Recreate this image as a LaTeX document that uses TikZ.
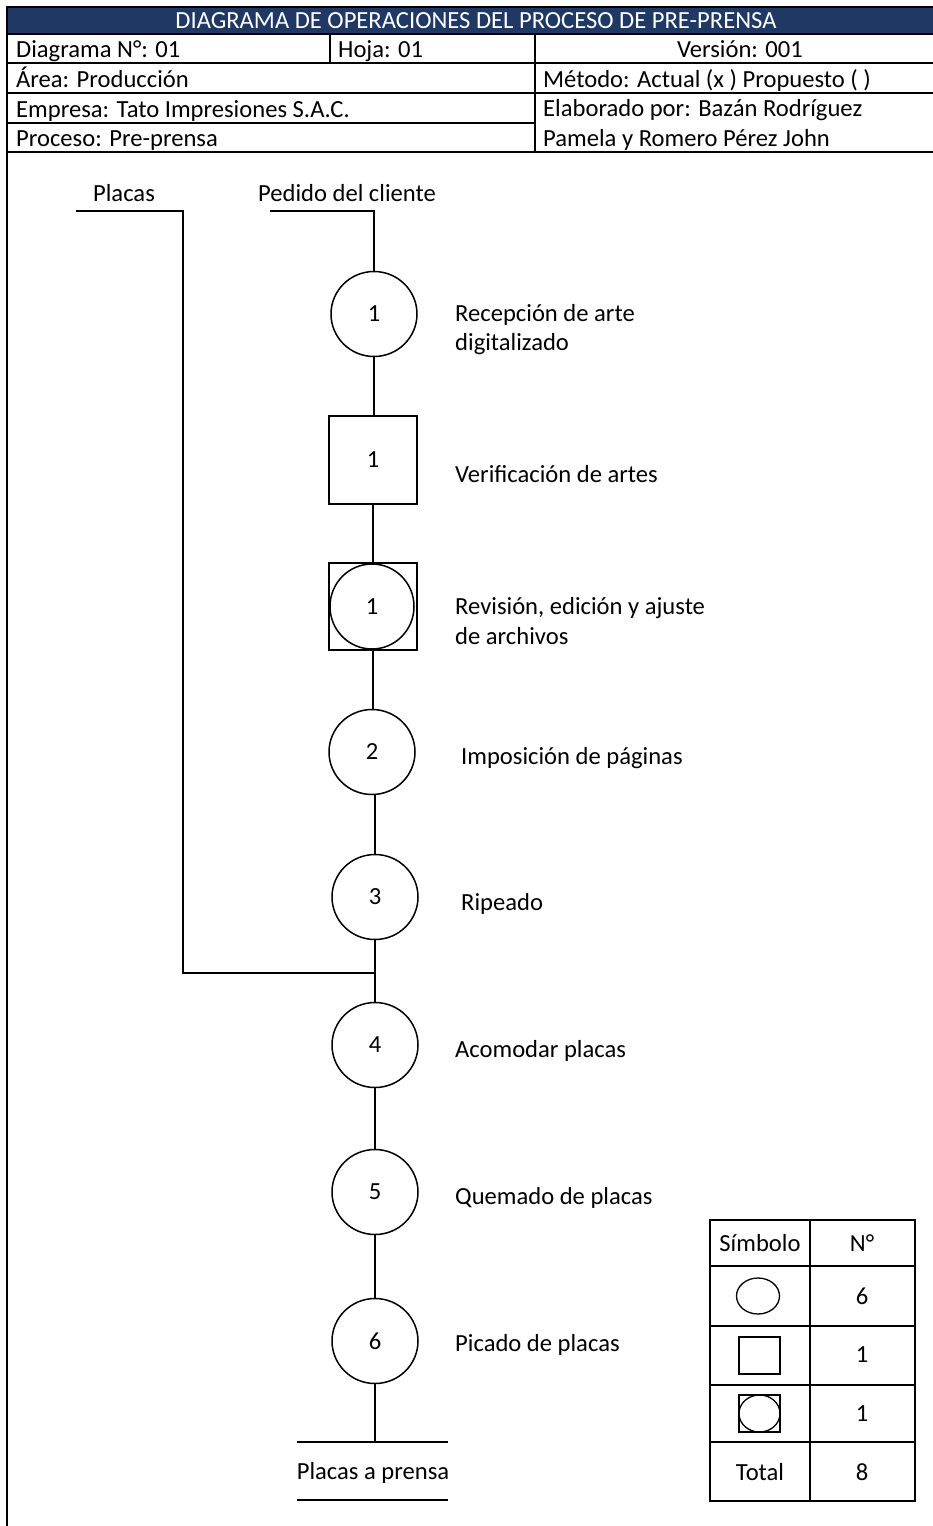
\documentclass[tikz,border=0pt]{standalone}
\usepackage{fontspec}
\setmainfont{Carlito}
\usetikzlibrary{shapes.geometric}
\definecolor{navy}{HTML}{1F3864}
\tikzset{
  every node/.style={font=\fontsize{24.6}{29}\selectfont, inner sep=0pt},
  rule/.style={line width=1.5pt, line cap=rect},
  opnode/.style={draw, line width=1.5pt, ellipse, minimum width=86pt, minimum height=85pt},
  insnode/.style={draw, line width=1.5pt, rectangle, minimum width=88pt, minimum height=88pt},
  comboframe/.style={draw, line width=1.5pt, rectangle, minimum width=88pt, minimum height=87pt},
  combocircle/.style={draw, line width=1.5pt, ellipse, minimum width=84pt, minimum height=85pt},
  lbl/.style={anchor=base west},
  hdr/.style={anchor=base west},
}
\begin{document}
\begin{tikzpicture}[x=1pt, y=-1pt]
\useasboundingbox (0,0) rectangle (933,1526);

% ---- header block ----
\fill[navy] (7,7) rectangle (933,34);
\node[anchor=base, text=white] (title) at (476,28) {DIAGRAMA DE OPERACIONES DEL PROCESO DE PRE-PRENSA};
\draw[rule] (7,7) -- (933,7);
\draw[rule] (7,34) -- (933,34);
\draw[rule] (7,63) -- (933,63);
\draw[rule] (7,93) -- (933,93);
\draw[rule] (7,123) -- (535,123);
\draw[rule] (7,152) -- (933,152);
\draw[rule] (330,34) -- (330,63);
\draw[rule] (535,34) -- (535,152);
\draw[rule] (7,7) -- (7,1526);

\node[hdr] (h1) at (16,57) {Diagrama N°: 01};
\node[hdr] (h2) at (338,57) {Hoja: 01};
\node[anchor=base] (h3) at (740,57) {Versión: 001};
\node[hdr] (h4) at (16,87) {Área: Producción};
\node[hdr] (h5) at (543,87) {Método: Actual (x ) Propuesto ( )};
\node[hdr] (h6) at (16,117) {Empresa: Tato Impresiones S.A.C.};
\node[hdr] (h7) at (543,116) {Elaborado por: Bazán Rodríguez};
\node[hdr] (h8) at (16,146) {Proceso: Pre-prensa};
\node[hdr] (h9) at (543,146) {Pamela y Romero Pérez John};

% ---- inputs ----
\node[anchor=base] (placas) at (124,201) {Placas};
\node[anchor=base] (pedido) at (347,201) {Pedido del cliente};
\coordinate (plL) at (77,211);
\coordinate (plC) at (183,211);
\coordinate (pedL) at (271,211);
\coordinate (jn) at (375,973);

% ---- process symbols ----
\node[opnode] (o1) at (374,314) {1};
\node[insnode] (s1) at (373,460) {1};
\node[comboframe] (c1) at (373,606.5) {};
\node[combocircle] (c1c) at (372,606.5) {1};
\node[opnode] (o2) at (372,752) {2};
\node[opnode] (o3) at (375,897) {3};
\node[opnode] (o4) at (375,1045) {4};
\node[opnode] (o5) at (375,1192) {5};
\node[opnode] (o6) at (375,1341) {6};

% ---- labels ----
\node[lbl] (t1a) at (455,321) {Recepción de arte};
\node[lbl] (t1b) at (455,350) {digitalizado};
\node[lbl] (t2) at (455,482) {Verificación de artes};
\node[lbl] (t3a) at (455,614) {Revisión, edición y ajuste};
\node[lbl] (t3b) at (455,644) {de archivos};
\node[lbl] (t4) at (461,764) {Imposición de páginas};
\node[lbl] (t5) at (461,910) {Ripeado};
\node[lbl] (t6) at (455,1057) {Acomodar placas};
\node[lbl] (t7) at (455,1204) {Quemado de placas};
\node[lbl] (t8) at (455,1351) {Picado de placas};

% ---- connectors (kept vertical) ----
\draw[rule] (pedL) -| (o1.north);
\draw[rule] (o1.south) -- (o1.south |- s1.north);
\draw[rule] (s1.south) -- (s1.south |- c1.north);
\draw[rule] (c1.south) -- (c1.south |- o2.north);
\draw[rule] (o3.north) -- (o3.north |- o2.south);
\draw[rule] (o3.south) -- (jn) -- (o4.north);
\draw[rule] (plL) -- (plC) |- (jn);
\draw[rule] (o4.south) -- (o4.south |- o5.north);
\draw[rule] (o5.south) -- (o5.south |- o6.north);
\coordinate (endT) at (375,1442);
\draw[rule] (o6.south) -- (endT);

% ---- output ----
\coordinate (eL) at (298,1442);
\coordinate (eR) at (447,1442);
\coordinate (fL) at (298,1500);
\coordinate (fR) at (447,1500);
\draw[rule] (eL) -- (eR);
\draw[rule] (fL) -- (fR);
\node[anchor=base] (salida) at (373,1479) {Placas a prensa};

% ---- summary table ----
\draw[rule] (710,1220) rectangle (915,1501);
\draw[rule] (810,1220) -- (810,1501);
\foreach \yy in {1266,1326,1385,1442} \draw[rule] (710,\yy) -- (915,\yy);
\node[anchor=base] (ks) at (760,1251) {Símbolo};
\node[anchor=base] (kn) at (862,1251) {N°};
\node[draw, line width=1.3pt, ellipse, minimum width=43pt, minimum height=36pt] (k1) at (758,1296) {};
\node[draw, line width=1.3pt, rectangle, minimum width=41pt, minimum height=37pt] (k2) at (759.5,1355.5) {};
\node[draw, line width=1.3pt, rectangle, minimum width=41pt, minimum height=37pt] (k3) at (759.5,1413.5) {};
\node[draw, line width=1.3pt, ellipse, minimum width=41pt, minimum height=37pt] (k3c) at (759.5,1413.5) {};
\node[anchor=base] (n1) at (862,1304) {6};
\node[anchor=base] (n2) at (862,1362) {1};
\node[anchor=base] (n3) at (862,1421) {1};
\node[anchor=base] (kt) at (760,1480) {Total};
\node[anchor=base] (nt) at (862,1480) {8};
\end{tikzpicture}
\end{document}
